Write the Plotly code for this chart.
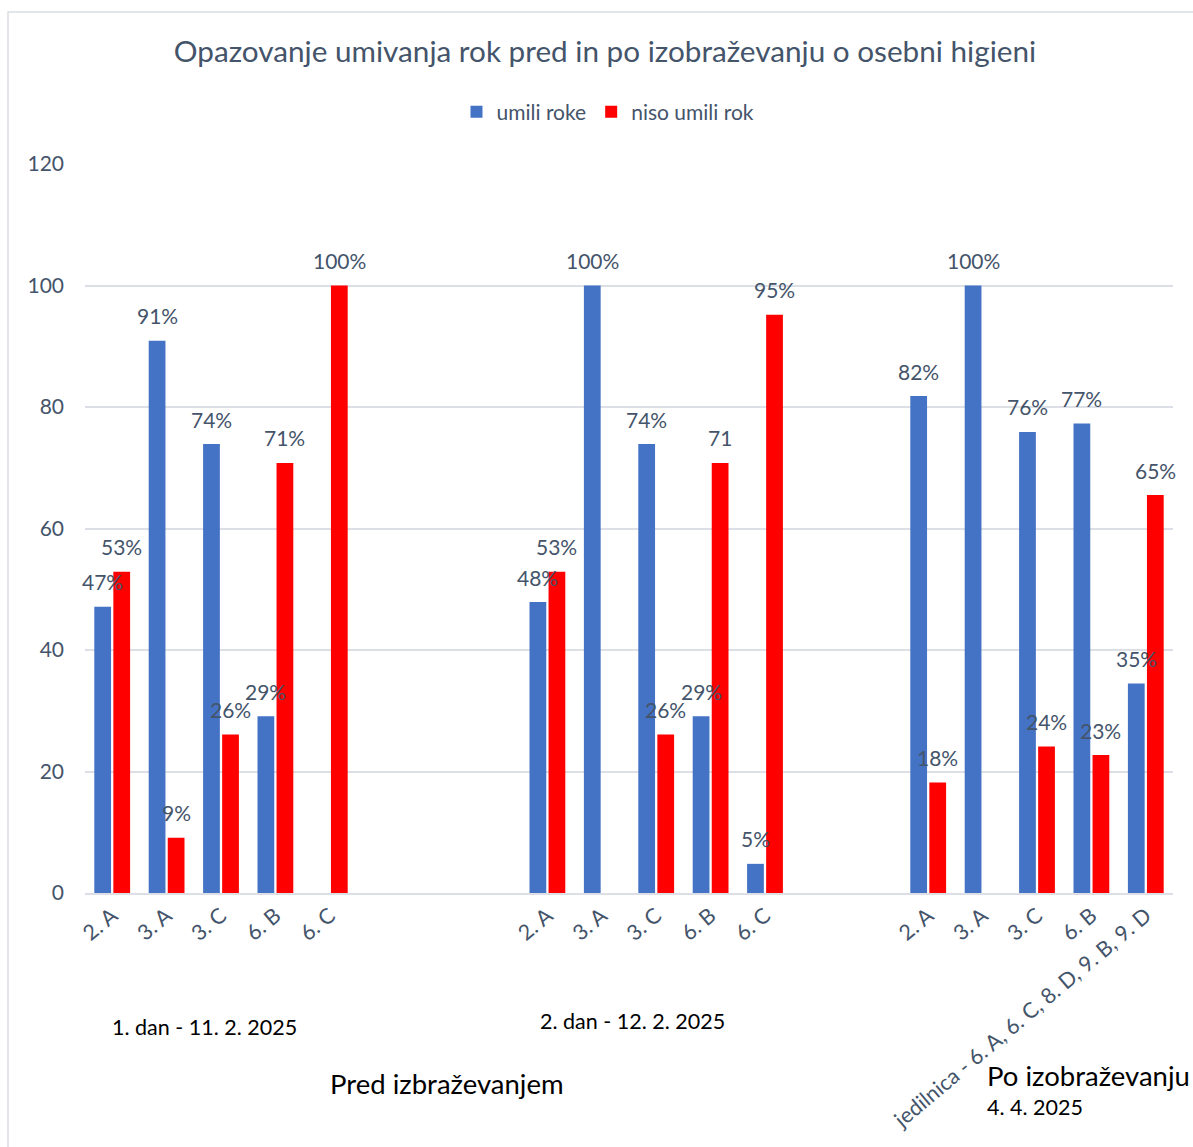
import plotly.graph_objects as go

# ---------------- data ----------------
title_text = "Opazovanje umivanja rok pred in po izobraževanju o osebni higieni"
series_names = ["umili roke", "niso umili rok"]

classes_day1 = ["2. A", "3. A", "3. C", "6. B", "6. C"]
classes_day2 = ["2. A", "3. A", "3. C", "6. B", "6. C"]
classes_after = ["2. A", "3. A", "3. C", "6. B", "jedilnica - 6. A, 6. C, 8. D, 9. B, 9. D"]

washed_day1 = [47.1, 90.9, 73.9, 29.1, None]
washed_day2 = [47.9, 100, 73.9, 29.1, 4.8]
washed_after = [81.8, 100, 75.9, 77.3, 34.5]

not_washed_day1 = [52.9, 9.1, 26.1, 70.8, 100]
not_washed_day2 = [52.9, None, 26.1, 70.8, 95.2]
not_washed_after = [18.2, None, 24.1, 22.7, 65.5]

labels_washed_day1 = ["47%", "91%", "74%", "29%", ""]
labels_washed_day2 = ["48%", "100%", "74%", "29%", "5%"]
labels_washed_after = ["82%", "100%", "76%", "77%", "35%"]
labels_not_day1 = ["53%", "9%", "26%", "71%", "100%"]
labels_not_day2 = ["53%", "", "26%", "71", "95%"]
labels_not_after = ["18%", "", "24%", "23%", "65%"]

day1_label = "1. dan - 11. 2. 2025"
day2_label = "2. dan - 12. 2. 2025"
before_label = "Pred izbraževanjem"
after_label = "Po izobraževanju"
after_date = "4. 4. 2025"

# ---------------- layout constants ----------------
W, H = 1193, 1147
ML, MR, MT, MB = 85, 20, 164, 254
GROUP_GAPS = [0, 3, 2]          # empty category slots before each group
BARGAP = 0.30
BARGROUPGAP = 0.12
BLUE = "#4472C4"
RED = "#FF0000"
TXT = "#44546A"
GRID = "#DCE0E6"
FONT = "Lato"

class_groups = [classes_day1, classes_day2, classes_after]
washed = washed_day1 + washed_day2 + washed_after
not_washed = not_washed_day1 + not_washed_day2 + not_washed_after
lab_w = labels_washed_day1 + labels_washed_day2 + labels_washed_after
lab_n = labels_not_day1 + labels_not_day2 + labels_not_after

xpos, ticktext = [], []
p = 0
for grp, gap in zip(class_groups, GROUP_GAPS):
    p += gap
    for c in grp:
        xpos.append(p)
        ticktext.append(c)
        p += 1
n_slots = p

fig = go.Figure()
fig.add_trace(go.Bar(name=series_names[0], x=xpos, y=washed, marker=dict(color=BLUE, line=dict(width=0))))
fig.add_trace(go.Bar(name=series_names[1], x=xpos, y=not_washed, marker=dict(color=RED, line=dict(width=0))))

plot_w = W - ML - MR
plot_h = H - MT - MB
slot_px = plot_w / n_slots
half_bar = slot_px * (1 - BARGAP) / 4

annotations = []
for xs, vals, labs, sign in [(xpos, washed, lab_w, -1), (xpos, not_washed, lab_n, 1)]:
    for x, v, t in zip(xs, vals, labs):
        if v is None or not t:
            continue
        annotations.append(dict(x=x, y=v, xref="x", yref="y", text=t, showarrow=False,
                                xshift=sign * half_bar, yshift=25, yanchor="middle",
                                font=dict(family=FONT, size=21, color=TXT)))


def px_x(px):
    return (px - ML) / plot_w


def px_y(py):
    return (H - MB - py) / plot_h


annotations += [
    dict(text=day1_label, x=px_x(204), y=px_y(1027), xref="paper", yref="paper", showarrow=False,
         xanchor="center", yanchor="middle", font=dict(family=FONT, size=21.5, color="black")),
    dict(text=day2_label, x=px_x(632), y=px_y(1021), xref="paper", yref="paper", showarrow=False,
         xanchor="center", yanchor="middle", font=dict(family=FONT, size=21.5, color="black")),
    dict(text=before_label, x=px_x(447), y=px_y(1083), xref="paper", yref="paper", showarrow=False,
         xanchor="center", yanchor="middle", font=dict(family=FONT, size=27.5, color="black")),
    dict(text=after_label, x=px_x(985), y=px_y(1075), xref="paper", yref="paper", showarrow=False,
         xanchor="left", yanchor="middle", font=dict(family=FONT, size=27.5, color="black")),
    dict(text=after_date, x=px_x(985), y=px_y(1107), xref="paper", yref="paper", showarrow=False,
         xanchor="left", yanchor="middle", font=dict(family=FONT, size=21.5, color="black")),
]

fig.update_layout(
    width=W, height=H,
    margin=dict(l=ML, r=MR, t=MT, b=MB, autoexpand=False),
    paper_bgcolor="white", plot_bgcolor="white",
    barmode="group", bargap=BARGAP, bargroupgap=BARGROUPGAP,
    title=dict(text=title_text, x=605 / W, xanchor="center",
               y=1 - 52 / H, yanchor="middle", font=dict(family=FONT, size=29.7, color=TXT)),
    legend=dict(orientation="h", x=px_x(608), y=px_y(112), xanchor="center", yanchor="middle",
                font=dict(family=FONT, size=21, color=TXT), itemwidth=30),
    annotations=annotations,
    shapes=[dict(type="rect", xref="paper", yref="paper", x0=px_x(8), x1=px_x(1300),
                 y0=px_y(1300), y1=px_y(12), line=dict(color="#D9DEE5", width=1.5), layer="below")],
    xaxis=dict(range=[-0.5, n_slots - 0.5], tickmode="array", tickvals=xpos, ticktext=ticktext,
               tickangle=-40, tickfont=dict(family=FONT, size=21.5, color=TXT), showgrid=False,
               showline=True, linecolor=GRID, linewidth=1.5, ticks="", zeroline=False, automargin=False),
    yaxis=dict(range=[0, 120], dtick=20, showgrid=True, gridcolor=GRID, gridwidth=1.5,
               zeroline=False, showline=False, tickfont=dict(family=FONT, size=21, color=TXT),
               ticklabelstandoff=20, automargin=False),
)

fig.write_html("out.html")
